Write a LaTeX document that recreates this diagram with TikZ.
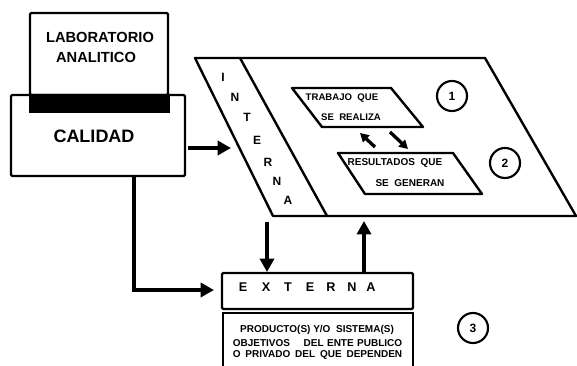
\documentclass[tikz,border=0pt]{standalone}
\usepackage{fontspec}
\setmainfont{Liberation Sans}
\usetikzlibrary{arrows.meta}
\begin{document}
\begin{tikzpicture}[x=0.75pt,y=-0.75pt,
  box/.style={draw,line width=1.7pt,rounded corners=1pt},
  para/.style={draw,line width=1.8pt,line join=round},
  bigarrow/.style={line width=3.4pt,-{Triangle[length=10pt,width=10.5pt]}},
  smallarrow/.style={line width=2.5pt,-{Triangle[length=6.5pt,width=7pt]}},
  num/.style={draw,circle,line width=1.6pt,minimum size=22.5pt,inner sep=0pt,font=\bfseries\fontsize{9}{9}\selectfont},
  labtxt/.style={font=\bfseries\fontsize{11}{13}\selectfont,inner sep=0pt},
  caltxt/.style={font=\bfseries\fontsize{13.5}{15}\selectfont,inner sep=0pt},
  intxt/.style={font=\bfseries\fontsize{9}{9}\selectfont,inner sep=0pt},
  boxtxt/.style={font=\bfseries\fontsize{7.2}{8}\selectfont,inner sep=0pt},
  exttxt/.style={font=\bfseries\fontsize{9.5}{10}\selectfont,inner sep=0pt},
  prodtxt/.style={font=\bfseries\fontsize{7.5}{8}\selectfont,inner sep=0pt}]
\useasboundingbox (0,0) rectangle (577,366);

% LABORATORIO / CALIDAD
\draw[box] (30,13) rectangle (168,95);
\draw[box] (11,95) rectangle (185,176);
\fill (29,94) rectangle (170,113);
\node[labtxt] (lab1) at (100,37) {LABORATORIO};
\node[labtxt] (lab2) at (96,57) {ANALITICO};
\node[caltxt] (cal) at (94,136) {CALIDAD};

% big parallelogram (INTERNA)
\coordinate (p1) at (195,58);
\coordinate (p2) at (485,58);
\coordinate (p3) at (576,216);
\coordinate (p4) at (273,216);
\draw[para] (p1) -- (p2) -- (p3) -- (p4) -- cycle;
\coordinate (s1) at (240,58);
\coordinate (s2) at (327,216);
\draw[para] (s1) -- (s2);
\node[intxt] (i1) at (223,77) {I};
\node[intxt] (i2) at (235,97) {N};
\node[intxt] (i3) at (247,117) {T};
\node[intxt] (i4) at (257,140) {E};
\node[intxt] (i5) at (268,162) {R};
\node[intxt] (i6) at (277,181) {N};
\node[intxt] (i7) at (288,200) {A};

% TRABAJO box
\draw[para] (292,88) -- (391,88) -- (423,127) -- (322,127) -- cycle;
\node[boxtxt] (t1) at (342,98) {TRABAJO\ \ QUE};
\node[boxtxt] (t2) at (351,117) {SE\ \ REALIZA};

% RESULTADOS box
\draw[para] (338,153) -- (453,153) -- (482,194) -- (365,194) -- cycle;
\node[boxtxt,font=\bfseries\fontsize{7.5}{8}\selectfont] (r1) at (395,163) {RESULTADOS\ \ QUE};
\node[boxtxt,font=\bfseries\fontsize{7.5}{8}\selectfont] (r2) at (410,183) {SE\ \ GENERAN};

% small arrows
\coordinate (a1s) at (375,147);
\coordinate (a1e) at (360,133);
\coordinate (a2s) at (390,132);
\coordinate (a2e) at (408,149);
\draw[smallarrow] (a1s) -- (a1e);
\draw[smallarrow] (a2s) -- (a2e);

% numbers
\node[num] (n1) at (452,96) {1};
\node[num] (n2) at (505,163) {2};
\node[num] (n3) at (473,328) {3};

% EXTERNA boxes
\draw[box] (222,273) rectangle (413,309);
\draw[line width=1.7pt] (223,368) -- (223,313) -- (413,313) -- (413,368);
\foreach \l/\x [count=\k] in {E/243,X/266,T/288,E/310,R/331,N/352,A/371}
  \node[exttxt] (e\k) at (\x,287) {\l};
\node[prodtxt] (pr1) at (317,330) {PRODUCTO(S)\ Y/O\ \ SISTEMA(S)};
\node[prodtxt] (pr2) at (317.5,343) {\makebox[127pt][s]{OBJETIVOS\ \ \ \ DEL ENTE PUBLICO}};
\node[prodtxt] (pr3) at (317.5,355) {\makebox[127pt][s]{O PRIVADO DEL QUE DEPENDEN}};

% big arrows
\coordinate (c1) at (188,148);
\coordinate (c2) at (231,148);
\draw[bigarrow] (c1) -- (c2);
\coordinate (d0) at (134,176);
\coordinate (d1) at (134,290);
\coordinate (d2) at (214,290);
\draw[line width=3.4pt] (d0) -- (d1);
\draw[bigarrow] (132.3,290) -- (d2);
\coordinate (u1) at (267,222);
\coordinate (u2) at (267,272);
\draw[bigarrow] (u1) -- (u2);
\coordinate (v1) at (364,272);
\coordinate (v2) at (364,221);
\draw[bigarrow] (v1) -- (v2);
\end{tikzpicture}
\end{document}
